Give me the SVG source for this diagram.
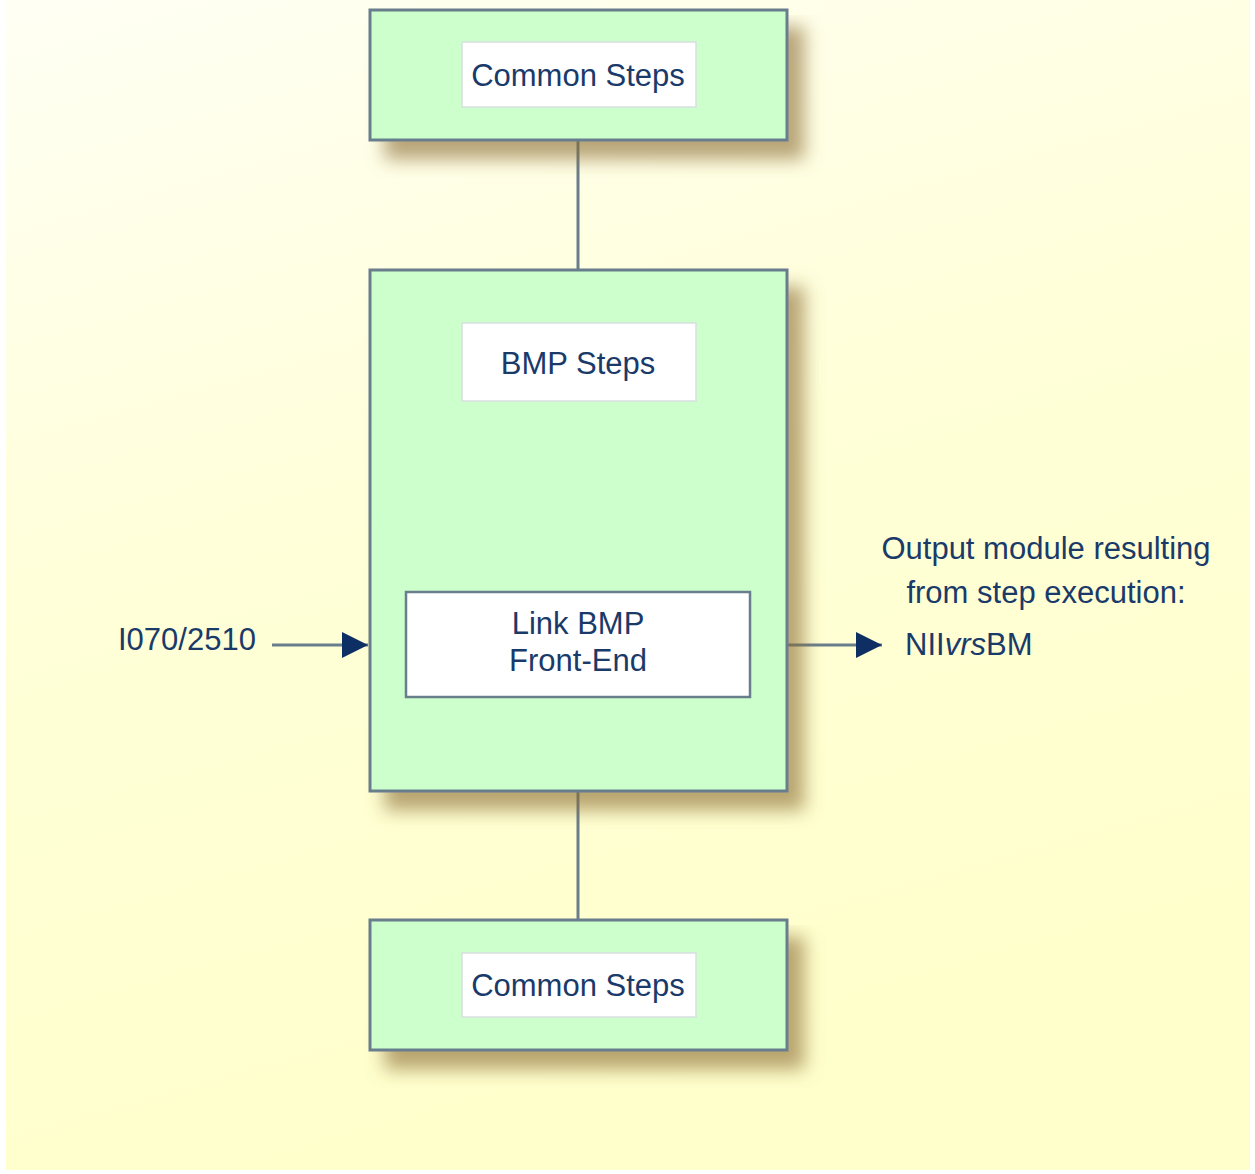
<svg xmlns="http://www.w3.org/2000/svg" width="1255" height="1174" viewBox="0 0 1255 1174">
<defs>
<linearGradient id="bg" x1="0" y1="0" x2="0.3" y2="1">
<stop offset="0" stop-color="#fffff4"/>
<stop offset="0.5" stop-color="#ffffd8"/>
<stop offset="1" stop-color="#ffffcc"/>
</linearGradient>
<filter id="sh" x="-10%" y="-10%" width="130%" height="140%">
<feGaussianBlur in="SourceAlpha" stdDeviation="9"/>
<feOffset dx="16" dy="18" result="b"/>
<feFlood flood-color="#8a6a30" flood-opacity="0.6"/>
<feComposite in2="b" operator="in" result="s"/>
<feMerge><feMergeNode in="s"/><feMergeNode in="SourceGraphic"/></feMerge>
</filter>
<marker id="ah" viewBox="0 0 10 10" refX="10" refY="5" markerWidth="26" markerHeight="26" markerUnits="userSpaceOnUse" orient="auto">
<path d="M0,0 L10,5 L0,10 Z" fill="#0d2f63"/>
</marker>
<style>
.outer{fill:#ccffcc;stroke:#687e8c;stroke-width:3}
.inner{fill:#ffffff;stroke:#d8e0e0;stroke-width:1.5}
.innerd{fill:#ffffff;stroke:#687e8c;stroke-width:2.5}
.t{font-family:"Liberation Sans",Arial,sans-serif;font-size:31px;fill:#1a3a6a}
.c{text-anchor:middle}
.ln{stroke:#687e8c;stroke-width:3;fill:none}
</style>
</defs>
<rect x="6" y="0" width="1244" height="1170" fill="url(#bg)"/>
<g id="connectors">
<line class="ln" x1="578" y1="140" x2="578" y2="270"/>
<line class="ln" x1="578" y1="791" x2="578" y2="920"/>
<line class="ln" x1="272" y1="645" x2="368" y2="645" marker-end="url(#ah)"/>
<line class="ln" x1="787" y1="645" x2="882" y2="645" marker-end="url(#ah)"/>
</g>
<g id="top-common">
<rect class="outer" x="370" y="10" width="417" height="130" filter="url(#sh)"/>
<rect class="inner" x="462" y="42" width="234" height="65"/>
<text class="t c" x="578" y="86">Common Steps</text>
</g>
<g id="bmp">
<rect class="outer" x="370" y="270" width="417" height="521" filter="url(#sh)"/>
<g id="bmp-steps">
<rect class="inner" x="462" y="323" width="234" height="78"/>
<text class="t c" x="578" y="374">BMP Steps</text>
</g>
<g id="link-bmp">
<rect class="innerd" x="406" y="592" width="344" height="105"/>
<text class="t c" x="578" y="634">Link BMP</text>
<text class="t c" x="578" y="671">Front-End</text>
</g>
</g>
<g id="bottom-common">
<rect class="outer" x="370" y="920" width="417" height="130" filter="url(#sh)"/>
<rect class="inner" x="462" y="953" width="234" height="64"/>
<text class="t c" x="578" y="996">Common Steps</text>
</g>
<g id="input">
<text class="t" x="118" y="650">I070/2510</text>
</g>
<g id="output">
<text class="t c" x="1046" y="559">Output module resulting</text>
<text class="t c" x="1046" y="603">from step execution:</text>
<text class="t" x="905" y="655">NII<tspan font-style="italic">vrs</tspan>BM</text>
</g>
</svg>
